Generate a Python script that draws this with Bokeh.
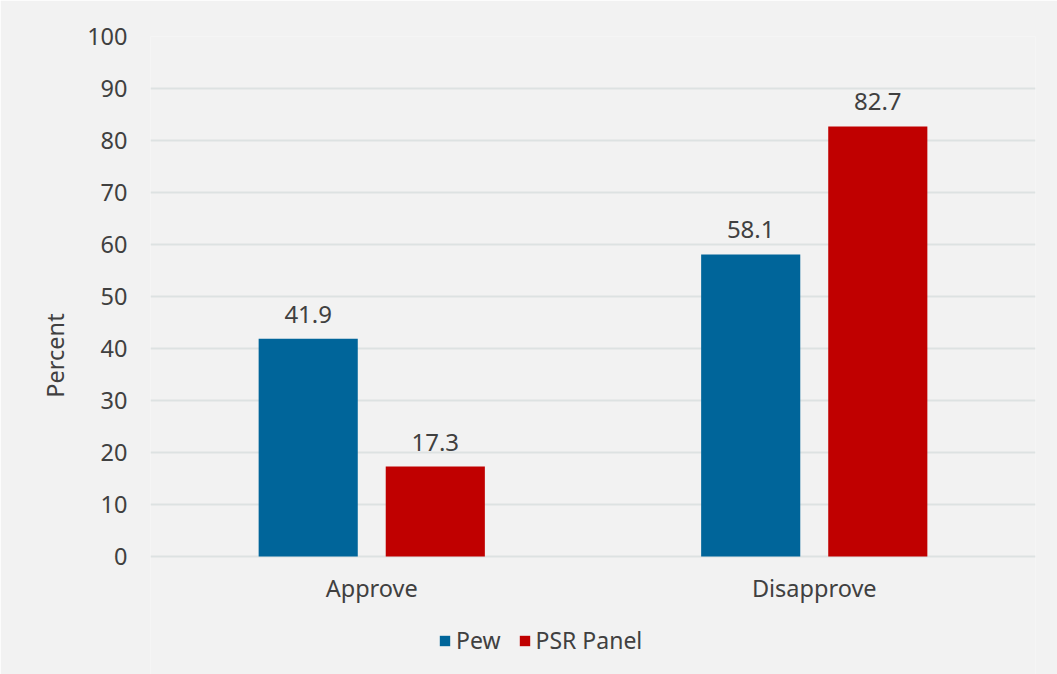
from bokeh.plotting import figure
from bokeh.models import ColumnDataSource, FixedTicker, Legend, LegendItem, LabelSet
from bokeh.core.properties import value
from bokeh.transform import dodge
from bokeh.embed import file_html
from bokeh.resources import INLINE

categories = ["Approve", "Disapprove"]
pew = [41.9, 58.1]
psr = [17.3, 82.7]
y_ticks = [0, 10, 20, 30, 40, 50, 60, 70, 80, 90, 100]

FONT = "Noto Sans"
TXT = "#404040"
BG = "#f2f2f2"

src = ColumnDataSource(dict(
    cat=categories, pew=pew, psr=psr,
    base=[0] * len(categories),
    pew_lbl=[f"{v:.1f}" for v in pew],
    psr_lbl=[f"{v:.1f}" for v in psr],
))

# frame extends below zero so the category labels and legend can sit inside it
p = figure(x_range=categories, y_range=(-22.69, 100), width=1057, height=674,
           output_backend="svg", toolbar_location=None,
           min_border_left=150, min_border_right=22, min_border_top=36, min_border_bottom=0)
p.background_fill_color = BG
p.border_fill_color = BG
p.outline_line_color = None

off = 0.1436
w = 0.224
r1 = p.vbar(x=dodge("cat", -off, range=p.x_range), top="pew", width=w, source=src,
            fill_color="#00659a", line_color=None)
r2 = p.vbar(x=dodge("cat", off, range=p.x_range), top="psr", width=w, source=src,
            fill_color="#c00000", line_color=None)

for col, lbl, o in (("pew", "pew_lbl", -off), ("psr", "psr_lbl", off)):
    ls = LabelSet(x=dodge("cat", o, range=p.x_range), y=col, text=lbl, source=src,
                  text_align="center", text_baseline="bottom", y_offset=16,
                  text_font=value(FONT), text_font_size="24px", text_color=TXT)
    p.add_layout(ls)

# category labels under the zero line
cat_lbl = LabelSet(x="cat", y="base", text="cat", source=src,
                   text_align="center", text_baseline="middle", y_offset=-31,
                   text_font=value(FONT), text_font_size="23.5px", text_color=TXT)
p.add_layout(cat_lbl)

p.xaxis.visible = False

p.yaxis.ticker = FixedTicker(ticks=y_ticks)
p.yaxis.axis_line_color = None
p.yaxis.major_tick_line_color = None
p.yaxis.minor_tick_line_color = None
p.yaxis.major_label_text_font = FONT
p.yaxis.major_label_text_font_size = "23.5px"
p.yaxis.major_label_text_color = TXT
p.yaxis.major_label_standoff = 17
p.yaxis.axis_label = "Percent"
p.yaxis.axis_label_text_font = FONT
p.yaxis.axis_label_text_font_size = "23.5px"
p.yaxis.axis_label_text_font_style = "normal"
p.yaxis.axis_label_text_color = TXT
p.yaxis.axis_label_standoff = 13

p.xgrid.grid_line_color = None
p.ygrid.grid_line_color = "#dde2e2"
p.ygrid.grid_line_width = 2

legend = Legend(items=[LegendItem(label="Pew", renderers=[r1]),
                       LegendItem(label="PSR Panel", renderers=[r2])],
                orientation="horizontal", location=(288, 18),
                background_fill_alpha=0, border_line_color=None,
                label_text_font=FONT, label_text_font_size="23px", label_text_color=TXT,
                glyph_width=13, glyph_height=13, spacing=17, label_standoff=5,
                margin=0, padding=8)
p.add_layout(legend, "center")

open("out.html", "w").write(file_html(p, INLINE))
